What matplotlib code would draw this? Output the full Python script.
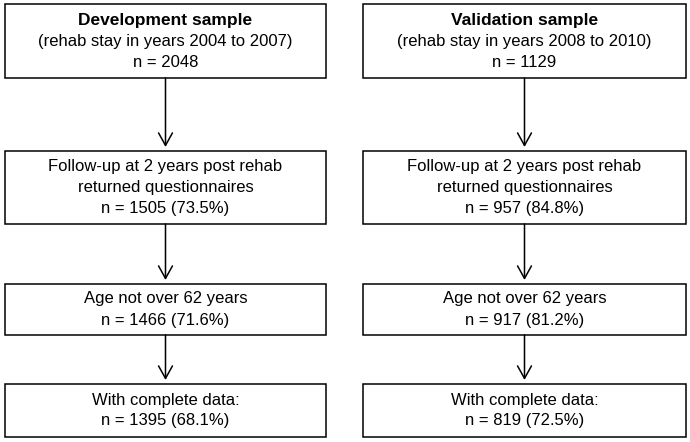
import matplotlib.pyplot as plt
from matplotlib.patches import Rectangle

plt.rcParams['font.family'] = ['Liberation Sans', 'DejaVu Sans']

# data
samples = ["Development sample", "Validation sample"]
years = ["2004 to 2007", "2008 to 2010"]
n_total = [2048, 1129]
n_followup = [1505, 957]
pct_followup = [73.5, 84.8]
n_age = [1466, 917]
pct_age = [71.6, 81.2]
n_complete = [1395, 819]
pct_complete = [68.1, 72.5]

# layout (pixels, y downward)
col_x = [(5, 326), (363, 686)]
box_y = [(4, 78), (151, 224), (284, 335), (384, 437)]

fig = plt.figure(figsize=(6.9, 4.42), dpi=100)
ax = fig.add_axes([0, 0, 1, 1])
ax.set_xlim(0, 690)
ax.set_ylim(442, 0)
ax.axis('off')

for c in range(2):
    x0, x1 = col_x[c]
    xc = (x0 + x1) / 2
    texts = [
        None,
        f"Follow-up at 2 years post rehab\nreturned questionnaires\nn = {n_followup[c]} ({pct_followup[c]}%)",
        f"Age not over 62 years\nn = {n_age[c]} ({pct_age[c]}%)",
        f"With complete data:\nn = {n_complete[c]} ({pct_complete[c]}%)",
    ]
    for i, (y0, y1) in enumerate(box_y):
        ax.add_patch(Rectangle((x0, y0), x1 - x0, y1 - y0, fill=False,
                               edgecolor='black', linewidth=1.1))
        yc = (y0 + y1) / 2
        if i == 0:
            ax.text(xc, yc - 20, samples[c], ha='center', va='center',
                    fontsize=12.5, fontweight='bold')
            ax.text(xc, yc + 11, f"(rehab stay in years {years[c]})\nn = {n_total[c]}",
                    ha='center', va='center', fontsize=12, linespacing=1.5)
        else:
            ax.text(xc, yc, texts[i], ha='center', va='center',
                    fontsize=12, linespacing=1.5)
        if i < len(box_y) - 1:
            ax.annotate("", xy=(xc, box_y[i + 1][0] - 4), xytext=(xc, y1),
                        arrowprops=dict(arrowstyle='->,head_length=0.45,head_width=0.25',
                                        mutation_scale=20, color='black',
                                        linewidth=1.1, shrinkA=0, shrinkB=0))

fig.savefig("out.png", dpi=100)
